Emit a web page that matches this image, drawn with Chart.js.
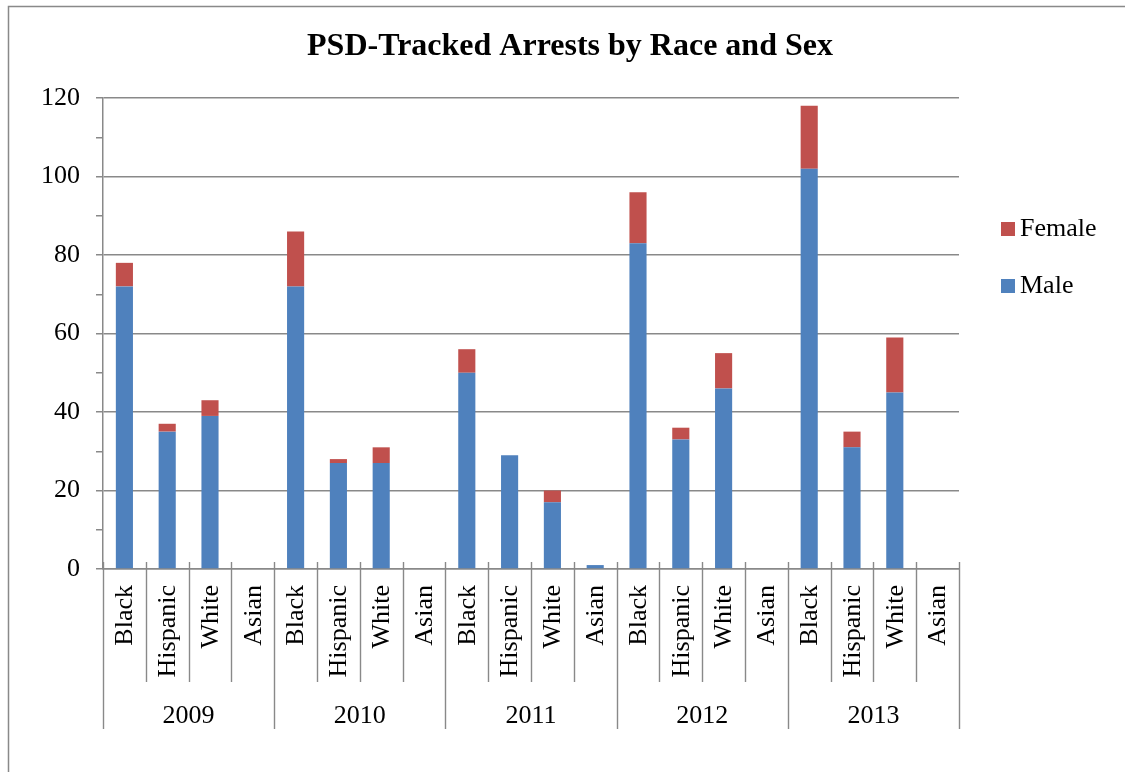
<!DOCTYPE html>
<html>
<head>
<meta charset="utf-8">
<script src="https://cdn.jsdelivr.net/npm/chart.js@4"></script>
<style>
  html, body { margin: 0; padding: 0; background: #fff; }
  #wrap { width: 1125px; height: 772px; position: relative; }
</style>
</head>
<body>
<div id="wrap"><canvas id="c" width="1125" height="772"></canvas></div>
<script>
// Arrest counts tracked per year, split by race and sex
const years = ['2009', '2010', '2011', '2012', '2013'];
const races = ['Black', 'Hispanic', 'White', 'Asian'];

const male = [
  72, 35, 39, 0,   // 2009
  72, 27, 27, 0,   // 2010
  50, 29, 17, 1,   // 2011
  83, 33, 46, 0,   // 2012
  102, 31, 45, 0   // 2013
];
const female = [
  6, 2, 4, 0,
  14, 1, 4, 0,
  6, 0, 3, 0,
  13, 3, 9, 0,
  16, 4, 14, 0
];

const yTicks = [0, 20, 40, 60, 80, 100, 120];

const titleText = 'PSD-Tracked Arrests by Race and Sex';
const BLUE = '#4F81BD';
const RED = '#C0504D';
const GRID = '#898989';
const FONT = '"Liberation Serif", "Times New Roman", serif';

// one category per (year, race) pair
const labels = [];
years.forEach(() => races.forEach(r => labels.push(r)));

// draws the frame, title, legend and the two-level category axis
const decorations = {
  id: 'decorations',
  afterDraw(chart) {
    const ctx = chart.ctx;
    const x = chart.scales.x;
    const area = chart.chartArea;
    ctx.save();

    // outer frame
    ctx.strokeStyle = GRID;
    ctx.lineWidth = 1.5;
    ctx.beginPath();
    ctx.moveTo(8.5, 772);
    ctx.lineTo(8.5, 6.5);
    ctx.lineTo(1125, 6.5);
    ctx.stroke();

    // title
    ctx.fillStyle = '#000';
    ctx.font = 'bold 32px ' + FONT;
    ctx.textAlign = 'center';
    ctx.textBaseline = 'alphabetic';
    ctx.fillText(titleText, 570, 55);

    // category separators
    const n = labels.length;
    const step = (x.getPixelForValue(1) - x.getPixelForValue(0));
    ctx.strokeStyle = GRID;
    ctx.lineWidth = 1.4;
    for (let i = 0; i <= n; i++) {
      const px = Math.round(x.getPixelForValue(0) - step / 2 + i * step) + 0.5;
      const isGroup = i % races.length === 0;
      ctx.beginPath();
      ctx.moveTo(px, area.bottom - 7);
      ctx.lineTo(px, isGroup ? 729 : 682);
      ctx.stroke();
    }

    // race labels, rotated
    ctx.fillStyle = '#000';
    ctx.font = '26px ' + FONT;
    labels.forEach((lab, i) => {
      const px = x.getPixelForValue(i);
      ctx.save();
      ctx.translate(px + 1, 585);
      ctx.rotate(-Math.PI / 2);
      ctx.textAlign = 'right';
      ctx.textBaseline = 'middle';
      ctx.fillText(lab, 0, 0);
      ctx.restore();
    });

    // year labels
    ctx.textAlign = 'center';
    ctx.textBaseline = 'alphabetic';
    years.forEach((yr, g) => {
      const a = x.getPixelForValue(g * races.length);
      const b = x.getPixelForValue(g * races.length + races.length - 1);
      ctx.fillText(yr, (a + b) / 2, 723);
    });

    // legend (Female above Male)
    const items = [
      { text: chart.data.datasets[1].label, color: RED, y: 222 },
      { text: chart.data.datasets[0].label, color: BLUE, y: 279 }
    ];
    items.forEach(it => {
      ctx.fillStyle = it.color;
      ctx.fillRect(1001, it.y, 14, 14);
      ctx.fillStyle = '#000';
      ctx.textAlign = 'left';
      ctx.textBaseline = 'alphabetic';
      ctx.fillText(it.text, 1020, it.y + 14);
    });

    ctx.restore();
  }
};

new Chart(document.getElementById('c'), {
  type: 'bar',
  data: {
    labels: labels,
    datasets: [
      { label: 'Male', data: male, backgroundColor: BLUE, borderWidth: 0 },
      { label: 'Female', data: female, backgroundColor: RED, borderWidth: 0 }
    ]
  },
  options: {
    responsive: false,
    animation: false,
    devicePixelRatio: 1,
    layout: { padding: { left: 8, right: 166, top: 98, bottom: 203 } },
    datasets: { bar: { barPercentage: 0.4, categoryPercentage: 1.0 } },
    plugins: {
      legend: { display: false },
      title: { display: false },
      tooltip: { enabled: false }
    },
    scales: {
      x: {
        stacked: true,
        offset: true,
        grid: { display: false, drawTicks: false },
        border: { display: true, color: GRID, width: 1.5 },
        ticks: { display: false },
        afterFit(s) { s.height = 0; }
      },
      y: {
        stacked: true,
        min: 0,
        max: 120,
        afterBuildTicks(s) {
          // majors from yTicks, minors halfway between
          const t = [];
          for (let i = 0; i < yTicks.length; i++) {
            t.push({ value: yTicks[i] });
            if (i < yTicks.length - 1) t.push({ value: (yTicks[i] + yTicks[i + 1]) / 2, minor: true });
          }
          s.ticks = t;
        },
        afterFit(s) { s.width = 95; },
        grid: {
          color: c => (c.tick && yTicks.includes(c.tick.value)) ? GRID : 'rgba(0,0,0,0)',
          tickColor: GRID,
          tickLength: 7,
          lineWidth: 1.5,
          drawTicks: true
        },
        border: { display: true, color: GRID, width: 1.5 },
        ticks: {
          padding: 16,
          color: '#000',
          font: { family: FONT, size: 26 },
          callback: v => yTicks.includes(v) ? String(v) : ''
        }
      }
    }
  },
  plugins: [decorations]
});
</script>
</body>
</html>
